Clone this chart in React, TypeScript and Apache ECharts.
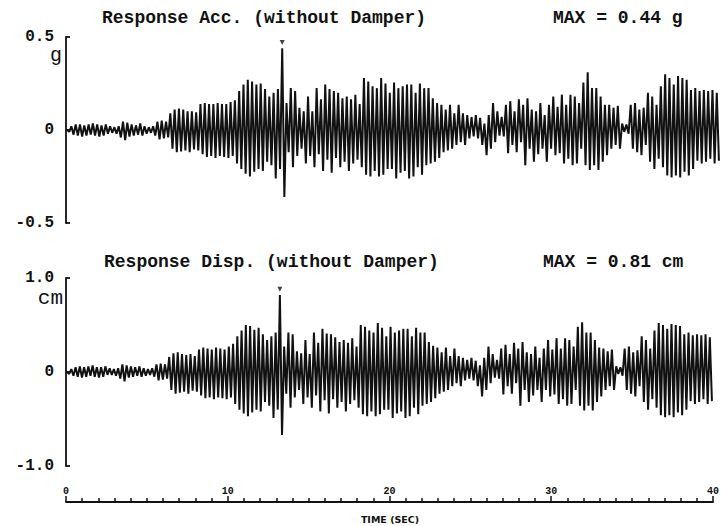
import React, { useEffect, useRef } from "react";
import * as echarts from "echarts";

// Time span and number of oscillation cycles drawn
const DURATION = 40;
const CYCLES = 152;

// Response acceleration (g): positive peak and negative trough of each cycle
const accPeaks = [
  0.00, 0.02, 0.03, 0.03, 0.025, 0.03, 0.035, 0.03, 0.025, 0.03, 0.02, 0.015, 0.02, 0.045, 0.04, 0.03, 0.025, 0.035, 0.02, 0.015, 0.02, 0.045, 0.05, 0.045,
  0.09, 0.11, 0.115, 0.11, 0.10, 0.10, 0.095,
  0.14, 0.145, 0.14, 0.14, 0.145, 0.14, 0.14, 0.15,
  0.16, 0.21, 0.245, 0.27,
  0.26, 0.245, 0.25, 0.22,
  0.18, 0.20, 0.22,
  0.44,
  0.145, 0.225, 0.21, 0.12, 0.10, 0.18, 0.10, 0.225, 0.165, 0.245, 0.22, 0.21, 0.20, 0.17, 0.18, 0.165, 0.19, 0.14, 0.28, 0.26, 0.235, 0.225, 0.28, 0.25,
  0.20, 0.255, 0.225, 0.235, 0.245, 0.245, 0.20, 0.25, 0.225, 0.225,
  0.17, 0.145, 0.135, 0.11, 0.135, 0.09, 0.135, 0.09, 0.08, 0.07,
  0.08, 0.065, 0.035, 0.08, 0.145, 0.10, 0.07,
  0.135, 0.155, 0.10, 0.165, 0.135, 0.17, 0.11, 0.10, 0.145,
  0.08, 0.135, 0.18, 0.125, 0.19, 0.135, 0.19, 0.18, 0.145, 0.255, 0.31, 0.225,
  0.225, 0.18, 0.135, 0.135, 0.12, 0.13,
  0.035, 0.03,
  0.135, 0.145, 0.11, 0.12, 0.20, 0.18, 0.135, 0.235, 0.30, 0.28, 0.245, 0.29, 0.28, 0.27, 0.215, 0.225, 0.21, 0.215, 0.21, 0.215, 0.20,
];
const accTroughs = [
  -0.01, -0.025, -0.03, -0.035, -0.03, -0.025, -0.03, -0.035, -0.03, -0.02, -0.015, -0.02, -0.04, -0.055, -0.035, -0.03, -0.025, -0.03, -0.02, -0.015, -0.03, -0.05, -0.045, -0.04,
  -0.10, -0.12, -0.115, -0.11, -0.12, -0.105, -0.11,
  -0.13, -0.145, -0.14, -0.15, -0.14, -0.145, -0.15, -0.14,
  -0.18, -0.21, -0.235, -0.25,
  -0.225, -0.21, -0.22, -0.17,
  -0.19, -0.26, -0.21,
  -0.36,
  -0.12, -0.20, -0.14, -0.10, -0.18, -0.14, -0.20, -0.13, -0.22, -0.16, -0.23, -0.15, -0.20, -0.17, -0.22, -0.18, -0.16, -0.20, -0.24, -0.25, -0.22, -0.25, -0.24, -0.21,
  -0.21, -0.26, -0.23, -0.22, -0.26, -0.25, -0.20, -0.24, -0.19, -0.18,
  -0.17, -0.15, -0.12, -0.11, -0.10, -0.08, -0.065, -0.08, -0.045, -0.035,
  -0.045, -0.08, -0.135, -0.10, -0.065, -0.03, -0.035,
  -0.125, -0.08, -0.12, -0.065, -0.19, -0.10, -0.17, -0.13, -0.10,
  -0.17, -0.10, -0.135, -0.125, -0.18, -0.155, -0.19, -0.18, -0.10, -0.19, -0.215, -0.19,
  -0.215, -0.17, -0.135, -0.10, -0.08, -0.10,
  -0.01, -0.02,
  -0.10, -0.12, -0.135, -0.08, -0.17, -0.21, -0.155, -0.20, -0.245, -0.255, -0.245, -0.255, -0.225, -0.245, -0.21, -0.165, -0.18, -0.17, -0.155, -0.18, -0.165,
];

// Response displacement (cm)
const dispPeaks = [
  0.00, 0.03, 0.05, 0.06, 0.05, 0.06, 0.07, 0.05, 0.05, 0.06, 0.04, 0.03, 0.04, 0.08, 0.07, 0.06, 0.05, 0.06, 0.04, 0.03, 0.04, 0.08, 0.09, 0.08,
  0.16, 0.20, 0.21, 0.19, 0.18, 0.19, 0.17,
  0.24, 0.26, 0.25, 0.24, 0.26, 0.25, 0.24, 0.27,
  0.30, 0.38, 0.44, 0.50,
  0.49, 0.45, 0.47, 0.40,
  0.34, 0.38, 0.42,
  0.82,
  0.27, 0.42, 0.40, 0.22, 0.20, 0.34, 0.19, 0.42, 0.31, 0.46, 0.41, 0.40, 0.37, 0.32, 0.34, 0.31, 0.36, 0.27, 0.50, 0.48, 0.44, 0.42, 0.52, 0.47,
  0.38, 0.48, 0.42, 0.44, 0.46, 0.46, 0.38, 0.47, 0.42, 0.42,
  0.32, 0.28, 0.26, 0.21, 0.26, 0.17, 0.25, 0.17, 0.15, 0.13,
  0.15, 0.12, 0.07, 0.15, 0.27, 0.19, 0.13,
  0.25, 0.29, 0.19, 0.31, 0.25, 0.32, 0.21, 0.19, 0.27,
  0.15, 0.25, 0.34, 0.24, 0.36, 0.25, 0.36, 0.34, 0.27, 0.48, 0.53, 0.42,
  0.42, 0.34, 0.26, 0.25, 0.22, 0.24,
  0.06, 0.05,
  0.25, 0.27, 0.21, 0.23, 0.38, 0.34, 0.25, 0.44, 0.52, 0.50, 0.46, 0.51, 0.50, 0.49, 0.40, 0.42, 0.39, 0.40, 0.39, 0.40, 0.37,
];
const dispTroughs = [
  -0.02, -0.04, -0.05, -0.06, -0.05, -0.04, -0.05, -0.06, -0.05, -0.03, -0.03, -0.04, -0.07, -0.10, -0.06, -0.05, -0.04, -0.05, -0.04, -0.03, -0.05, -0.09, -0.08, -0.07,
  -0.19, -0.23, -0.22, -0.21, -0.23, -0.20, -0.21,
  -0.25, -0.28, -0.27, -0.29, -0.27, -0.28, -0.29, -0.27,
  -0.34, -0.40, -0.44, -0.47,
  -0.43, -0.40, -0.42, -0.32,
  -0.36, -0.49, -0.40,
  -0.67,
  -0.23, -0.38, -0.27, -0.19, -0.34, -0.27, -0.38, -0.25, -0.42, -0.30, -0.44, -0.29, -0.38, -0.32, -0.42, -0.34, -0.30, -0.38, -0.45, -0.47, -0.42, -0.47, -0.45, -0.40,
  -0.40, -0.49, -0.44, -0.42, -0.49, -0.47, -0.38, -0.45, -0.36, -0.34,
  -0.32, -0.28, -0.23, -0.21, -0.19, -0.15, -0.12, -0.15, -0.09, -0.07,
  -0.09, -0.15, -0.26, -0.19, -0.12, -0.06, -0.07,
  -0.24, -0.15, -0.23, -0.12, -0.36, -0.19, -0.32, -0.25, -0.19,
  -0.32, -0.19, -0.26, -0.24, -0.34, -0.29, -0.36, -0.34, -0.19, -0.36, -0.41, -0.36,
  -0.41, -0.32, -0.26, -0.19, -0.15, -0.19,
  -0.02, -0.04,
  -0.19, -0.23, -0.26, -0.15, -0.32, -0.40, -0.29, -0.38, -0.46, -0.48, -0.46, -0.48, -0.43, -0.46, -0.40, -0.31, -0.34, -0.32, -0.29, -0.34, -0.31,
];

const accMax = 0.44;
const dispMax = 0.81;
const accTicks = ["-0.5", "0", "0.5"];
const dispTicks = ["-1.0", "0", "1.0"];

const INK = "#111111";
const MONO = "'Liberation Mono', 'DejaVu Sans Mono', monospace";

function buildWave(peaks: number[], troughs: number[]): number[][] {
  const period = DURATION / CYCLES;
  const out: number[][] = [[0, 0]];
  for (let i = 0; i < peaks.length; i++) {
    out.push([i * period + period * 0.25, peaks[i]]);
    out.push([i * period + period * 0.75, troughs[i]]);
  }
  return out;
}

function peakTime(peaks: number[]): number {
  let k = 0;
  for (let i = 1; i < peaks.length; i++) if (peaks[i] > peaks[k]) k = i;
  const period = DURATION / CYCLES;
  return k * period + period * 0.25;
}

export default function App() {
  const ref = useRef<HTMLDivElement>(null);

  useEffect(() => {
    if (!ref.current) return;
    const chart = echarts.init(ref.current, undefined, { renderer: "svg" });
    const accData = buildWave(accPeaks, accTroughs);
    const dispData = buildWave(dispPeaks, dispTroughs);
    const tAcc = peakTime(accPeaks);
    const tDisp = peakTime(dispPeaks);

    const yAxisBase = (min: number, max: number, interval: number, labels: string[], gridIndex: number) => ({
      type: "value",
      gridIndex,
      min,
      max,
      interval,
      axisLine: { show: true, onZero: false, lineStyle: { color: INK, width: 1.8 } },
      axisTick: { show: true, inside: true, length: 4, lineStyle: { color: INK, width: 1.8 } },
      splitLine: { show: false },
      axisLabel: {
        margin: 12,
        color: INK,
        fontFamily: MONO,
        fontWeight: "bold",
        fontSize: 16,
        formatter: (v: number) => {
          const idx = Math.round((v - min) / interval);
          return labels[idx] ?? "";
        },
      },
    });

    chart.setOption({
      animation: false,
      backgroundColor: "#ffffff",
      grid: [
        { left: 66, right: 2, top: 37, height: 186 },
        { left: 66, right: 2, top: 278, height: 188 },
      ],
      xAxis: [
        { type: "value", gridIndex: 0, min: 0, max: DURATION, show: false },
        {
          type: "value",
          gridIndex: 1,
          min: 0,
          max: DURATION,
          interval: 10,
          offset: 36,
          axisLine: { show: true, onZero: false, lineStyle: { color: INK, width: 1.8 } },
          axisTick: { show: true, inside: true, length: 6, lineStyle: { color: INK, width: 1.5 } },
          minorTick: { show: true, splitNumber: 10, length: 4, lineStyle: { color: INK, width: 1.5 } },
          splitLine: { show: false },
          axisLabel: {
            inside: true,
            margin: 6,
            color: INK,
            fontFamily: MONO,
            fontWeight: "bold",
            fontSize: 10,
          },
        },
      ],
      yAxis: [
        yAxisBase(-0.5, 0.5, 0.5, accTicks, 0),
        yAxisBase(-1, 1, 1, dispTicks, 1),
      ],
      series: [
        {
          type: "line",
          xAxisIndex: 0,
          yAxisIndex: 0,
          data: accData,
          showSymbol: false,
          lineStyle: { color: INK, width: 2 },
        },
        {
          type: "line",
          xAxisIndex: 1,
          yAxisIndex: 1,
          data: dispData,
          showSymbol: false,
          lineStyle: { color: INK, width: 2 },
        },
        {
          type: "scatter",
          xAxisIndex: 0,
          yAxisIndex: 0,
          data: [[tAcc, accMax + 0.03]],
          symbol: "triangle",
          symbolRotate: 180,
          symbolSize: 5,
          itemStyle: { color: INK },
        },
        {
          type: "scatter",
          xAxisIndex: 1,
          yAxisIndex: 1,
          data: [[tDisp, dispMax + 0.07]],
          symbol: "triangle",
          symbolRotate: 180,
          symbolSize: 5,
          itemStyle: { color: INK },
        },
      ],
      graphic: [
        {
          type: "text",
          x: 102,
          y: 18,
          style: {
            text: "Response Acc. (without Damper)",
            font: `bold 18px ${MONO}`,
            fill: INK,
            textVerticalAlign: "middle",
          },
        },
        {
          type: "text",
          x: 553,
          y: 18,
          style: {
            text: `MAX = ${accMax.toFixed(2)} g`,
            font: `bold 18px ${MONO}`,
            fill: INK,
            textVerticalAlign: "middle",
          },
        },
        {
          type: "text",
          x: 104,
          y: 262,
          style: {
            text: "Response Disp. (without Damper)",
            font: `bold 18px ${MONO}`,
            fill: INK,
            textVerticalAlign: "middle",
          },
        },
        {
          type: "text",
          x: 543,
          y: 262,
          style: {
            text: `MAX = ${dispMax.toFixed(2)} cm`,
            font: `bold 18px ${MONO}`,
            fill: INK,
            textVerticalAlign: "middle",
          },
        },
        {
          type: "text",
          x: 62,
          y: 55,
          style: {
            text: "g",
            font: `20px ${MONO}`,
            fill: INK,
            textAlign: "right",
            textVerticalAlign: "middle",
          },
        },
        {
          type: "text",
          x: 63,
          y: 298,
          style: {
            text: "cm",
            font: `21px ${MONO}`,
            fill: INK,
            textAlign: "right",
            textVerticalAlign: "middle",
          },
        },
        {
          type: "text",
          x: 390,
          y: 519,
          style: {
            text: "TIME (SEC)",
            font: `bold 9.5px 'DejaVu Sans', sans-serif`,
            fill: INK,
            textAlign: "center",
            textVerticalAlign: "middle",
          },
        },
      ],
    });

    return () => {
      chart.dispose();
    };
  }, []);

  return (
    <div
      ref={ref}
      style={{ position: "fixed", left: 0, top: 0, width: 722, height: 526, background: "#fff" }}
    />
  );
}
